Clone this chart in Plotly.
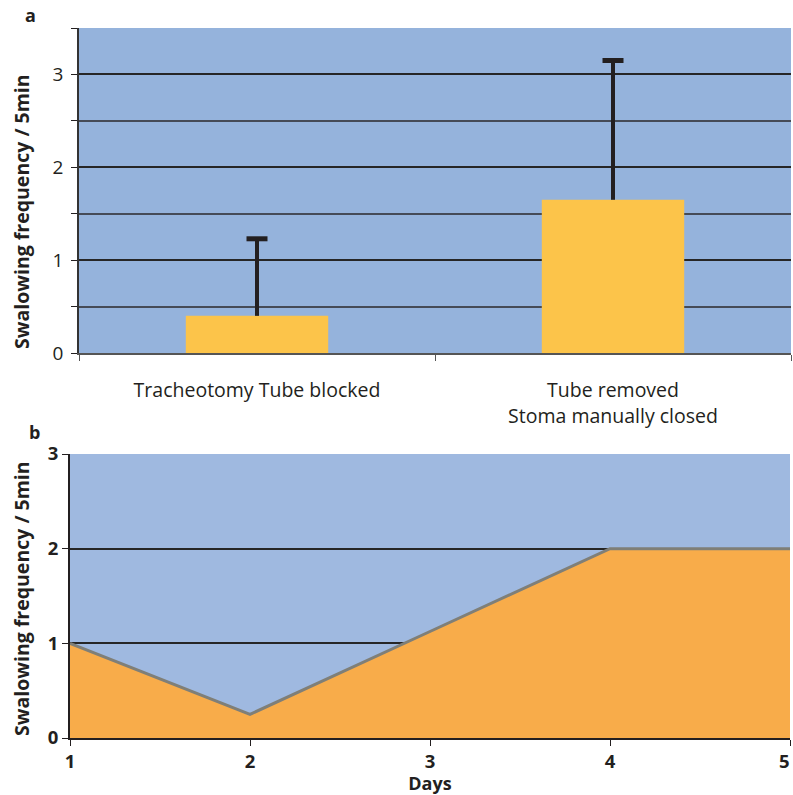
import plotly.graph_objects as go

# Panel a: mean swallowing frequency per condition with upper SD
conditions = ["Tracheotomy Tube blocked", "Tube removed<br>Stoma manually closed"]
mean_freq = [0.40, 1.65]
sd_freq = [0.83, 1.50]

# Panel b: swallowing frequency over days
days = [1, 2, 3, 4, 5]
daily_freq = [1.0, 0.25, 1.125, 2.0, 2.0]

FONT = "Open Sans"
INK = "#231F20"
Y_TITLE = "<b>Swalowing frequency / 5min</b>"

# day labels; the last one is written right-aligned at the page edge instead
day_labels = [str(d) for d in days]
last_day_label = day_labels[-1]
day_labels[-1] = ""

fig = go.Figure()

# bars with a one-sided (upper) error stem
fig.add_trace(go.Bar(
    x=conditions, y=mean_freq, width=0.4,
    marker=dict(color="#FCC44A", line=dict(width=0)),
    error_y=dict(type="data", symmetric=False, array=sd_freq,
                 arrayminus=[0] * len(sd_freq),
                 color=INK, thickness=4, width=0),
    xaxis="x", yaxis="y", showlegend=False, hoverinfo="skip",
))
# caps on top of the error stems
fig.add_trace(go.Scatter(
    x=conditions, y=[m + s for m, s in zip(mean_freq, sd_freq)],
    mode="markers",
    marker=dict(symbol="line-ew", size=15, line=dict(color=INK, width=5)),
    xaxis="x", yaxis="y", showlegend=False, hoverinfo="skip",
))

fig.add_trace(go.Scatter(
    x=days, y=daily_freq, mode="lines", fill="tozeroy",
    fillcolor="#F8AC4A", line=dict(color="#7F7F78", width=3),
    xaxis="x2", yaxis="y2", showlegend=False,
))

W, H = 793, 795

def px_x(v):
    return v / W

def px_y(v):
    return (H - v) / H

def label(text, x, y, size, angle=0):
    return dict(text=text, x=px_x(x), y=px_y(y), xref="paper", yref="paper",
                xanchor="center", yanchor="middle", showarrow=False,
                textangle=angle, font=dict(size=size, color=INK))

fig.update_layout(
    width=W, height=H,
    margin=dict(l=0, r=0, t=0, b=0),
    paper_bgcolor="white",
    font=dict(family=FONT, color=INK),
    xaxis=dict(
        domain=[px_x(79), px_x(791)], anchor="y", automargin=False,
        type="category", range=[-0.5, 1.5],
        tickson="boundaries", ticks="outside", ticklen=6, tickcolor="#555",
        showline=True, linecolor="#555", linewidth=1.5,
        showgrid=False, tickfont=dict(size=19.5, color=INK),
        ticklabelstandoff=19,
    ),
    yaxis=dict(
        domain=[px_y(353), px_y(28)], anchor="x", automargin=False,
        range=[0, 3.5], tick0=0, dtick=1,
        ticks="outside", ticklen=6, tickcolor=INK,
        showline=True, linecolor="#333", linewidth=1.5,
        showgrid=True, gridcolor="#262626", gridwidth=1.6,
        zeroline=False,
        minor=dict(tick0=0, dtick=0.5, ticks="outside", ticklen=6,
                   tickcolor=INK, showgrid=True, gridcolor="#454B57",
                   gridwidth=1.5),
        tickfont=dict(size=19, color=INK),
        ticklabelstandoff=4,
    ),
    plot_bgcolor="#95B3DC",
    xaxis2=dict(
        domain=[px_x(70), px_x(790)], anchor="y2", automargin=False,
        range=[1, 5], tickmode="array", tickvals=days, ticktext=day_labels,
        ticks="outside", ticklen=6, tickcolor=INK,
        showline=True, linecolor=INK, linewidth=2,
        showgrid=False, zeroline=False,
        tickfont=dict(size=18.5, color=INK, weight="bold"),
        title=dict(text="<b>Days</b>", font=dict(size=18, color=INK),
                   standoff=0),
    ),
    yaxis2=dict(
        domain=[px_y(738), px_y(454)], anchor="x2", automargin=False,
        range=[0, 3], tick0=0, dtick=1,
        ticks="outside", ticklen=6, tickcolor=INK,
        showline=True, linecolor=INK, linewidth=2,
        showgrid=True, gridcolor="#262626", gridwidth=1.6,
        zeroline=False,
        tickfont=dict(size=18.5, color=INK, weight="bold"),
    ),
    annotations=[
        label("<b>a</b>", 30, 15, 18),
        label("<b>b</b>", 34, 432, 18),
        label(Y_TITLE, 21, 212, 19.5, angle=-90),
        label(Y_TITLE, 21, 599, 19.5, angle=-90),
        dict(text="<b>%s</b>" % last_day_label, x=days[-1], xref="x2",
             y=px_y(760), yref="paper", xanchor="right", yanchor="middle",
             xshift=2, showarrow=False, font=dict(size=18.5, color=INK)),
    ],
)

# second subplot background
fig.add_shape(type="rect", xref="x2 domain", yref="y2 domain",
              x0=0, x1=1, y0=0, y1=1, fillcolor="#9FB9E0",
              line=dict(width=0), layer="below")

fig.write_html("out.html")
